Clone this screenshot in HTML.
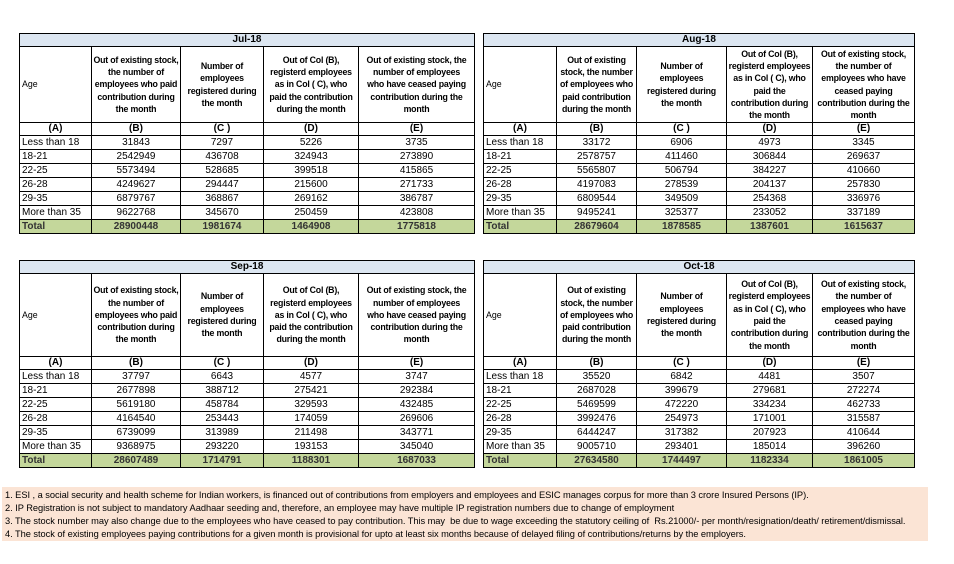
<!DOCTYPE html>
<html><head><meta charset="utf-8"><style>
body{margin:0;width:954px;height:564px;background:#fff;position:relative;overflow:hidden;font-family:"Liberation Sans",sans-serif;color:#000}
table{position:absolute;border-collapse:collapse;table-layout:fixed;font-size:10px}
td{border:1px solid #000;padding:0 2px;text-align:center;white-space:nowrap;overflow:hidden;line-height:10px}
td.l{text-align:left}
tr.t td{background:#dce6f1;font-weight:bold;height:12px}
tr.h td{font-weight:bold;font-size:8.8px;line-height:12.3px;padding:0;letter-spacing:-0.2px}
tr.a td{font-weight:bold;height:12px}
tr.d td{height:13px}
tr.g td{background:#c4d79b;font-weight:bold;color:#333;height:13px}
tr.h td.l{font-weight:normal;padding-left:2px;letter-spacing:0}
.notes{position:absolute;left:2px;top:487px;width:926px;height:54px;background:#fbe4d5;font-size:9.3px;line-height:13px;padding-left:3px;box-sizing:border-box;padding-top:2px;white-space:nowrap;letter-spacing:-0.05px}
</style></head><body>

<table style="left:19px;top:33px;width:455px">
<colgroup><col style="width:72px"><col style="width:89px"><col style="width:83px"><col style="width:95px"><col style="width:116px"></colgroup>
<tr class="t"><td colspan="5">Jul-18</td></tr>
<tr class="h" style="height:76px"><td class="l">Age</td><td>Out of existing stock,<br>the number of<br>employees who paid<br>contribution during<br>the month</td><td>Number of<br>employees<br>registered during<br>the month</td><td>Out of Col (B),<br>registerd employees<br>as in Col ( C), who<br>paid the contribution<br>during the month</td><td>Out of existing stock, the<br>number of employees<br>who have ceased paying<br>contribution during the<br>month</td></tr>
<tr class="a"><td>(A)</td><td>(B)</td><td>(C )</td><td>(D)</td><td>(E)</td></tr>
<tr class="d"><td class="l">Less than 18</td><td>31843</td><td>7297</td><td>5226</td><td>3735</td></tr>
<tr class="d"><td class="l">18-21</td><td>2542949</td><td>436708</td><td>324943</td><td>273890</td></tr>
<tr class="d"><td class="l">22-25</td><td>5573494</td><td>528685</td><td>399518</td><td>415865</td></tr>
<tr class="d"><td class="l">26-28</td><td>4249627</td><td>294447</td><td>215600</td><td>271733</td></tr>
<tr class="d"><td class="l">29-35</td><td>6879767</td><td>368867</td><td>269162</td><td>386787</td></tr>
<tr class="d"><td class="l">More than 35</td><td>9622768</td><td>345670</td><td>250459</td><td>423808</td></tr>
<tr class="g"><td class="l">Total</td><td>28900448</td><td>1981674</td><td>1464908</td><td>1775818</td></tr>
</table>

<table style="left:483px;top:33px;width:431px">
<colgroup><col style="width:73px"><col style="width:80px"><col style="width:90px"><col style="width:86px"><col style="width:102px"></colgroup>
<tr class="t"><td colspan="5">Aug-18</td></tr>
<tr class="h" style="height:76px"><td class="l">Age</td><td>Out of existing<br>stock, the number<br>of employees who<br>paid contribution<br>during the month</td><td>Number of<br>employees<br>registered during<br>the month</td><td>Out of Col (B),<br>registerd employees<br>as in Col ( C), who<br>paid the<br>contribution during<br>the month</td><td>Out of existing stock,<br>the number of<br>employees who have<br>ceased paying<br>contribution during the<br>month</td></tr>
<tr class="a"><td>(A)</td><td>(B)</td><td>(C )</td><td>(D)</td><td>(E)</td></tr>
<tr class="d"><td class="l">Less than 18</td><td>33172</td><td>6906</td><td>4973</td><td>3345</td></tr>
<tr class="d"><td class="l">18-21</td><td>2578757</td><td>411460</td><td>306844</td><td>269637</td></tr>
<tr class="d"><td class="l">22-25</td><td>5565807</td><td>506794</td><td>384227</td><td>410660</td></tr>
<tr class="d"><td class="l">26-28</td><td>4197083</td><td>278539</td><td>204137</td><td>257830</td></tr>
<tr class="d"><td class="l">29-35</td><td>6809544</td><td>349509</td><td>254368</td><td>336976</td></tr>
<tr class="d"><td class="l">More than 35</td><td>9495241</td><td>325377</td><td>233052</td><td>337189</td></tr>
<tr class="g"><td class="l">Total</td><td>28679604</td><td>1878585</td><td>1387601</td><td>1615637</td></tr>
</table>

<table style="left:19px;top:260px;width:455px">
<colgroup><col style="width:72px"><col style="width:89px"><col style="width:83px"><col style="width:95px"><col style="width:116px"></colgroup>
<tr class="t"><td colspan="5">Sep-18</td></tr>
<tr class="h" style="height:83px"><td class="l">Age</td><td>Out of existing stock,<br>the number of<br>employees who paid<br>contribution during<br>the month</td><td>Number of<br>employees<br>registered during<br>the month</td><td>Out of Col (B),<br>registerd employees<br>as in Col ( C), who<br>paid the contribution<br>during the month</td><td>Out of existing stock, the<br>number of employees<br>who have ceased paying<br>contribution during the<br>month</td></tr>
<tr class="a"><td>(A)</td><td>(B)</td><td>(C )</td><td>(D)</td><td>(E)</td></tr>
<tr class="d"><td class="l">Less than 18</td><td>37797</td><td>6643</td><td>4577</td><td>3747</td></tr>
<tr class="d"><td class="l">18-21</td><td>2677898</td><td>388712</td><td>275421</td><td>292384</td></tr>
<tr class="d"><td class="l">22-25</td><td>5619180</td><td>458784</td><td>329593</td><td>432485</td></tr>
<tr class="d"><td class="l">26-28</td><td>4164540</td><td>253443</td><td>174059</td><td>269606</td></tr>
<tr class="d"><td class="l">29-35</td><td>6739099</td><td>313989</td><td>211498</td><td>343771</td></tr>
<tr class="d"><td class="l">More than 35</td><td>9368975</td><td>293220</td><td>193153</td><td>345040</td></tr>
<tr class="g"><td class="l">Total</td><td>28607489</td><td>1714791</td><td>1188301</td><td>1687033</td></tr>
</table>

<table style="left:483px;top:260px;width:431px">
<colgroup><col style="width:73px"><col style="width:80px"><col style="width:90px"><col style="width:86px"><col style="width:102px"></colgroup>
<tr class="t"><td colspan="5">Oct-18</td></tr>
<tr class="h" style="height:83px"><td class="l">Age</td><td>Out of existing<br>stock, the number<br>of employees who<br>paid contribution<br>during the month</td><td>Number of<br>employees<br>registered during<br>the month</td><td>Out of Col (B),<br>registerd employees<br>as in Col ( C), who<br>paid the<br>contribution during<br>the month</td><td>Out of existing stock,<br>the number of<br>employees who have<br>ceased paying<br>contribution during the<br>month</td></tr>
<tr class="a"><td>(A)</td><td>(B)</td><td>(C )</td><td>(D)</td><td>(E)</td></tr>
<tr class="d"><td class="l">Less than 18</td><td>35520</td><td>6842</td><td>4481</td><td>3507</td></tr>
<tr class="d"><td class="l">18-21</td><td>2687028</td><td>399679</td><td>279681</td><td>272274</td></tr>
<tr class="d"><td class="l">22-25</td><td>5469599</td><td>472220</td><td>334234</td><td>462733</td></tr>
<tr class="d"><td class="l">26-28</td><td>3992476</td><td>254973</td><td>171001</td><td>315587</td></tr>
<tr class="d"><td class="l">29-35</td><td>6444247</td><td>317382</td><td>207923</td><td>410644</td></tr>
<tr class="d"><td class="l">More than 35</td><td>9005710</td><td>293401</td><td>185014</td><td>396260</td></tr>
<tr class="g"><td class="l">Total</td><td>27634580</td><td>1744497</td><td>1182334</td><td>1861005</td></tr>
</table>

<div class="notes">
1. ESI , a social security and health scheme for Indian workers, is financed out of contributions from employers and employees and ESIC manages corpus for more than 3 crore Insured Persons (IP).<br>
2. IP Registration is not subject to mandatory Aadhaar seeding and, therefore, an employee may have multiple IP registration numbers due to change of employment<br>
3. The stock number may also change due to the employees who have ceased to pay contribution. This may &nbsp;be due to wage exceeding the statutory ceiling of &nbsp;Rs.21000/- per month/resignation/death/ retirement/dismissal.<br>
4. The stock of existing employees paying contributions for a given month is provisional for upto at least six months because of delayed filing of contributions/returns by the employers.
</div>
</body></html>
